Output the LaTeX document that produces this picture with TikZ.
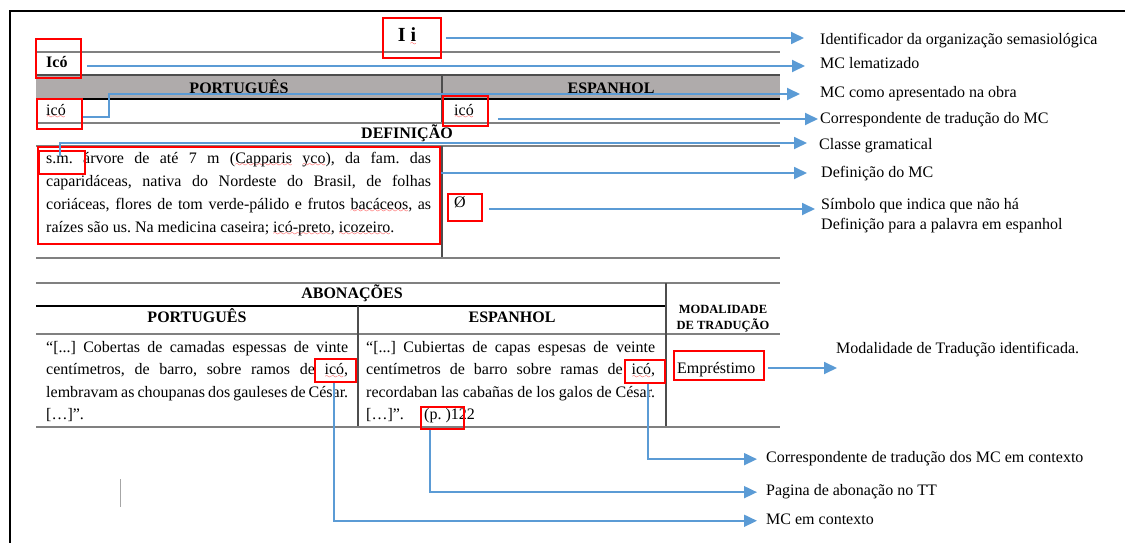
\documentclass[tikz,border=0pt]{standalone}
\usepackage{fontspec}
\setmainfont{Liberation Serif}
\usetikzlibrary{arrows.meta}
\definecolor{blu}{HTML}{5B9BD5}
\definecolor{bandc}{HTML}{AFABAB}
\definecolor{tline}{HTML}{808080}
\definecolor{dline}{HTML}{4D4D4D}
\font\wavefont=lasy7
\newcommand{\rw}[1]{\setbox0\hbox{#1}\rlap{\lower3.5pt\hbox to\wd0{\color{red}\xleaders\hbox{\wavefont\char58}\hfil}}\box0\relax}
\newcommand{\jl}[2]{\makebox[#1][s]{#2}}
\frenchspacing
\begin{document}
\begin{tikzpicture}[x=1pt,y=-1pt,
  frame/.style={draw=black,line width=1.6pt},
  tl/.style={draw=tline,line width=1.3pt},
  dl/.style={draw=dline,line width=1.2pt},
  bl/.style={draw=black,line width=1.2pt},
  cursorline/.style={draw=gray!70,line width=0.8pt},
  redbox/.style={draw=red,line width=1.6pt,inner sep=0pt},
  conn/.style={draw=blu,line width=1.8pt,-{Triangle[length=13pt,width=12pt]}},
  lab/.style={anchor=base west,inner sep=0pt,font=\fontsize{16}{20}\selectfont,align=left},
  hd/.style={anchor=base,inner sep=0pt,font=\fontsize{16}{18}\selectfont\bfseries},
  txt/.style={anchor=base west,inner sep=0pt,font=\fontsize{16}{18}\selectfont},
  para/.style={anchor=base west,inner sep=0pt,align=left},
]
\useasboundingbox (0,0) rectangle (1125,543);
% frame
\draw[frame] (1125,11) -- (10,11) -- (10,543);
% band
\fill[bandc] (36,75) rectangle (780,99);
% table lines
\draw[tl] (36,52) -- (780,52);
\draw[dl] (36,75) -- (780,75);
\draw[bl] (36,99) -- (780,99);
\draw[dl] (442,75) -- (442,123);
\draw[tl] (36,123) -- (780,123);
\draw[tl] (36,146) -- (780,146);
\draw[dl] (442,146) -- (442,258);
\draw[tl] (36,258) -- (780,258);
\draw[tl] (36,283) -- (780,283);
\draw[bl] (36,306) -- (666,306);
\draw[tl] (36,334) -- (780,334);
\draw[dl] (358,306) -- (358,427);
\draw[dl] (666,283) -- (666,427);
\draw[tl] (36,427) -- (780,427);
\draw[cursorline] (120,479) -- (120,507);
% texts
\node[anchor=base,inner sep=0pt,font=\fontsize{20}{22}\selectfont\bfseries] (tIi) at (407,42) {I \rw{i}};
\node[txt,font=\fontsize{16}{18}\selectfont\bfseries] (tIco) at (46,67) {Icó};
\node[hd] (tPT) at (239,93) {PORTUGUÊS};
\node[hd] (tES) at (611,93) {ESPANHOL};
\node[txt] (tico1) at (46,115) {\rw{icó}};
\node[txt] (tico2) at (454,115) {\rw{icó}};
\node[hd] (tDef) at (407,138) {DEFINIÇÃO};
\node[para,font=\fontsize{16}{23}\selectfont] (tPara) at (46,232) {%
\jl{385pt}{s.m. árvore de até 7 m (\rw{Capparis} \rw{yco}), da fam. das}\\
\jl{385pt}{caparidáceas, nativa do Nordeste do Brasil, de folhas}\\
\jl{385pt}{coriáceas, flores de tom verde-pálido e frutos \rw{bacáceos}, as}\\
raízes são us. Na medicina caseira; \rw{icó-preto}, \rw{icozeiro}.};
\node[txt] (tO) at (454,207) {Ø};
\node[hd] (tAbo) at (352,298) {ABONAÇÕES};
\node[hd] (tPT2) at (197,322) {PORTUGUÊS};
\node[hd] (tES2) at (512,322) {ESPANHOL};
\node[anchor=base,inner sep=0pt,align=center,font=\fontsize{12.5}{16}\selectfont\bfseries] (tMod) at (723,329) {MODALIDADE\\DE TRADUÇÃO};
\node[para,font=\fontsize{16}{22.5}\selectfont] (tCitPT) at (46,419.5) {%
\jl{302pt}{“[...] Cobertas de camadas espessas de vinte}\\
\jl{302pt}{centímetros, de barro, sobre ramos de \rw{icó},}\\
\jl{302pt}{lembravam as choupanas dos gauleses de César.}\\
{[}…]”.};
\node[para,font=\fontsize{16}{22.5}\selectfont] (tCitES) at (366,419.5) {%
\jl{289pt}{“[...] Cubiertas de capas espesas de veinte}\\
\jl{289pt}{centímetros de barro sobre ramas de \rw{icó},}\\
\jl{289pt}{recordaban las cabañas de los galos de César.}\\
\makebox[58pt][l]{[…]”.}(p. )122};
\node[txt] (tEmp) at (677,373) {Empréstimo};
% red boxes
\node[redbox,minimum width=58pt,minimum height=40pt] (bIi) at (412,38) {};
\node[redbox,minimum width=45pt,minimum height=39pt] (bIco) at (58.5,58.5) {};
\node[redbox,minimum width=45pt,minimum height=30pt] (bicoP) at (59.5,114) {};
\node[redbox,minimum width=45pt,minimum height=30pt] (bicoE) at (465.5,111) {};
\node[redbox,minimum width=402pt,minimum height=97pt] (bdef) at (239,195.5) {};
\node[redbox,minimum width=46pt,minimum height=23pt] (bsm) at (62,162.5) {};
\node[redbox,minimum width=34pt,minimum height=27pt] (bO) at (465,207.5) {};
\node[redbox,minimum width=41pt,minimum height=23pt] (bC1) at (335.5,370.5) {};
\node[redbox,minimum width=40pt,minimum height=23pt] (bC2) at (645,371.5) {};
\node[redbox,minimum width=43pt,minimum height=22pt] (bp) at (442.5,418) {};
\node[redbox,minimum width=90pt,minimum height=29pt] (bEmp) at (719,365.5) {};
% labels
\node[lab] (l1) at (820,45) {Identificador da organização semasiológica};
\node[lab] (l2) at (820,69) {MC lematizado};
\node[lab] (l3) at (820,97) {MC como apresentado na obra};
\node[lab] (l4) at (820,123) {Correspondente de tradução do MC};
\node[lab] (l5) at (819,149) {Classe gramatical};
\node[lab] (l6) at (821,177) {Definição do MC};
\node[lab] (l7) at (821,229) {Símbolo que indica que não há\\Definição para a palavra em espanhol};
\node[lab] (lMod) at (836,353) {Modalidade de Tradução identificada.};
\node[lab] (lCorr) at (766,462) {Correspondente de tradução dos MC em contexto};
\node[lab] (lPag) at (766,495) {Pagina de abonação no TT};
\node[lab] (lMC) at (766,524) {MC em contexto};
% connectors
\coordinate (k3) at (109,117);
\draw[conn,shorten >=20pt] ([xshift=4pt]bIi.east) -- ([xshift=4pt]bIi.east -| l1.west);
\draw[conn,shorten >=20pt] ([xshift=5pt,yshift=-7.5pt]bIco.east) -- ([xshift=5pt,yshift=-7.5pt]bIco.east -| l2.west);
\draw[conn,shorten >=20pt] ([yshift=-3pt]bicoP.east) -- (k3) |- ([yshift=23pt]k3 -| l3.west);
\draw[conn,shorten >=11pt] ([xshift=9pt,yshift=-8pt]bicoE.east) -- ([xshift=9pt,yshift=-8pt]bicoE.east -| l4.west);
\draw[conn,shorten >=12pt] ([xshift=-2pt,yshift=6.5pt]bsm.center) |- ([yshift=19.5pt]bsm.center -| l5.west);
\draw[conn,shorten >=14pt] ([yshift=22.5pt]bdef.east) -- ([yshift=22.5pt]bdef.east -| l6.west);
\draw[conn,shorten >=12pt] ([xshift=6pt,yshift=-1.5pt]bO.east) -- ([xshift=6pt,yshift=-1.5pt]bO.east -| l7.west);
\draw[conn,shorten >=2pt] ([xshift=3pt,yshift=-2.5pt]bEmp.east) -- ([xshift=3pt,yshift=-2.5pt]bEmp.east -| lMod.west);
\draw[conn,shorten >=9pt] ([xshift=-1.5pt]bC1.south) |- ([yshift=-2pt]lMC.west);
\draw[conn,shorten >=9pt] ([xshift=-12.5pt]bp.south) |- ([yshift=-1pt]lPag.west);
\draw[conn,shorten >=9pt] ([xshift=3pt]bC2.south) |- ([yshift=-1pt]lCorr.west);
\end{tikzpicture}
\end{document}
